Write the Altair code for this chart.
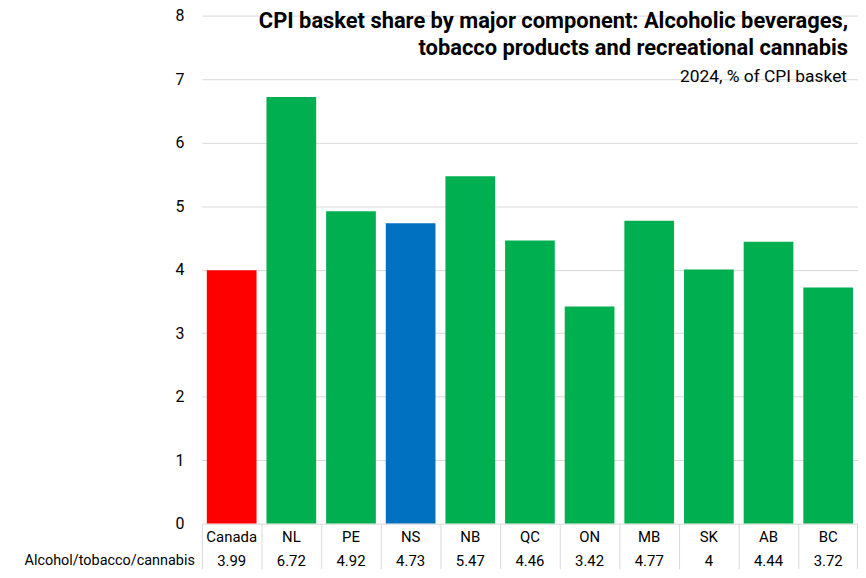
import altair as alt
import pandas as pd

categories = ["Canada", "NL", "PE", "NS", "NB", "QC", "ON", "MB", "SK", "AB", "BC"]
values = [3.99, 6.72, 4.92, 4.73, 5.47, 4.46, 3.42, 4.77, 4.0, 4.44, 3.72]
value_labels = ["3.99", "6.72", "4.92", "4.73", "5.47", "4.46", "3.42", "4.77", "4", "4.44", "3.72"]
colors = ["#FF0000", "#00B050", "#00B050", "#0070C0", "#00B050", "#00B050",
          "#00B050", "#00B050", "#00B050", "#00B050", "#00B050"]
row_header = "Alcohol/tobacco/cannabis"
title_lines = ["CPI basket share by major component: Alcoholic beverages,",
               "tobacco products and recreational cannabis"]
subtitle = "2024, % of CPI basket"

FONT = "Roboto, sans-serif"
W, H = 660, 511
TOP = 6
TICK = 46

df = pd.DataFrame({"cat": categories, "val": values, "lab": value_labels, "col": colors})

xscale = alt.Scale(domain=categories, paddingInner=1/6, paddingOuter=1/12)

bars = alt.Chart(df).mark_bar().encode(
    x=alt.X("cat:N", sort=categories, scale=xscale,
            axis=alt.Axis(title=None, labelAngle=0, labelFont=FONT, labelFontSize=15,
                          labelColor="#000000", labelPadding=13 - TICK, labelBaseline="middle",
                          domain=False,
                          ticks=True, tickSize=TICK, tickColor="#d9d9d9", tickWidth=1,
                          bandPosition=-0.1, grid=False)),
    y=alt.Y("val:Q", scale=alt.Scale(domain=[0, 8]),
            axis=alt.Axis(title=None, values=list(range(9)), labelFont=FONT, labelFontSize=16,
                          labelColor="#000000", labelPadding=18, ticks=False, domain=False,
                          gridColor="#d9d9d9", gridWidth=1)),
    color=alt.Color("col:N", scale=None),
)

vals = alt.Chart(df).mark_text(font=FONT, fontSize=15, color="#000000", baseline="middle").encode(
    x=alt.X("cat:N", sort=categories, scale=xscale),
    y=alt.value(H + 38),
    text="lab:N",
)

hdr_df = pd.DataFrame({"t": [row_header]})
header = alt.Chart(hdr_df).mark_text(font=FONT, fontSize=14.5, color="#000000",
                                     align="right", baseline="middle").encode(
    x=alt.value(-7), y=alt.value(H + 38), text="t:N")

right_rule = alt.Chart(hdr_df).mark_rule(color="#d9d9d9", strokeWidth=1).encode(
    x=alt.value(W - 0.5), y=alt.value(H), y2=alt.value(H + TICK))

t_df = pd.DataFrame({"t": title_lines + [subtitle]})
t1 = alt.Chart(t_df.iloc[[0]]).mark_text(font=FONT, fontSize=22, fontWeight="bold", color="#000000",
                                        align="right", baseline="alphabetic").encode(
    x=alt.value(650), y=alt.value(26 - 8 - TOP), text="t:N")
t2 = alt.Chart(t_df.iloc[[1]]).mark_text(font=FONT, fontSize=22, fontWeight="bold", color="#000000",
                                        align="right", baseline="alphabetic").encode(
    x=alt.value(650), y=alt.value(54 - 8 - TOP), text="t:N")
t3 = alt.Chart(t_df.iloc[[2]]).mark_text(font=FONT, fontSize=17.5, color="#000000",
                                        align="right", baseline="alphabetic").encode(
    x=alt.value(649), y=alt.value(81 - 8 - TOP), text="t:N")

chart = alt.layer(bars, vals, header, right_rule, t1, t2, t3).properties(
    width=W, height=H,
    autosize=alt.AutoSizeParams(type="none"),
    padding={"left": 195, "top": TOP, "right": 0, "bottom": 44},
    background="#ffffff",
).configure_view(stroke=None)

chart.save("out.html", embed_options={"renderer": "svg", "actions": False})
